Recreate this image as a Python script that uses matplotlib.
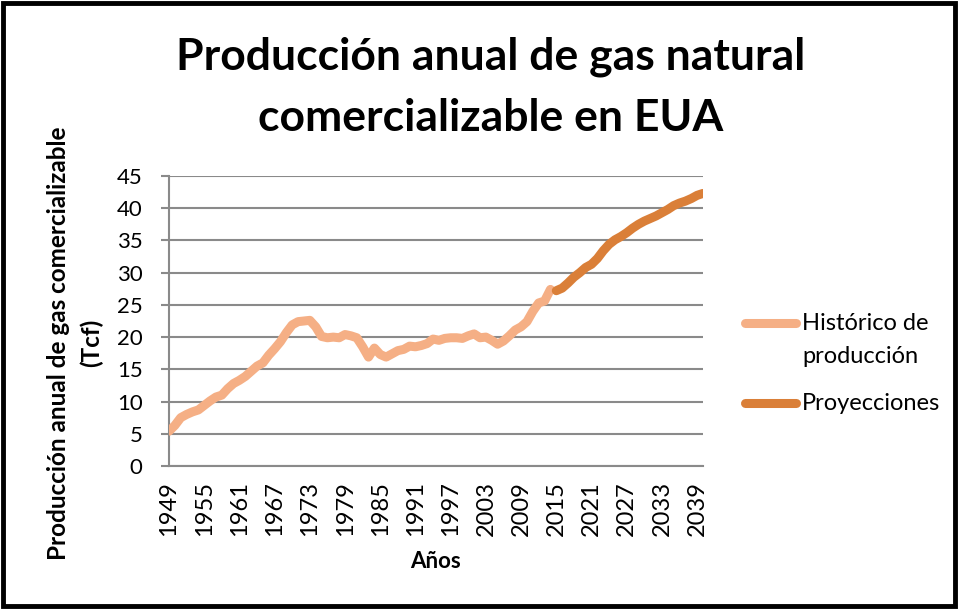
import matplotlib
matplotlib.use("Agg")
import matplotlib.pyplot as plt
from matplotlib.patches import Rectangle
from matplotlib.lines import Line2D

# --- Data (Tcf) ---
hist_years = list(range(1949, 2015))
hist_vals = [5.4, 6.3, 7.5, 8.0, 8.4, 8.7, 9.4, 10.1, 10.7, 11.0,
             12.0, 12.8, 13.3, 13.9, 14.7, 15.5, 16.0, 17.2, 18.2, 19.3,
             20.7, 21.9, 22.4, 22.5, 22.6, 21.6, 20.1, 19.9, 20.0, 19.9,
             20.4, 20.2, 19.9, 18.5, 16.9, 18.3, 17.3, 16.9, 17.4, 17.9,
             18.1, 18.6, 18.5, 18.7, 19.0, 19.7, 19.5, 19.8, 19.9, 19.9,
             19.8, 20.2, 20.5, 19.9, 20.0, 19.5, 18.9, 19.4, 20.2, 21.1,
             21.6, 22.4, 24.0, 25.3, 25.6, 27.4]
proj_years = list(range(2015, 2041))
proj_vals = [27.2, 27.6, 28.4, 29.3, 30.0, 30.8, 31.3, 32.2, 33.4, 34.4,
             35.1, 35.6, 36.2, 36.9, 37.5, 38.0, 38.4, 38.8, 39.3, 39.8,
             40.4, 40.8, 41.1, 41.5, 42.0, 42.3]
xtick_years = list(range(1949, 2040, 6))
yticks = list(range(0, 50, 5))
series_labels = ["Histórico de\nproducción", "Proyecciones"]

HIST, PROJ, GRID = "#F5AF85", "#DA7F38", "#8A8A8A"
FONT = "Lato"
W, H = 960, 609

fig = plt.figure(figsize=(9.6, 6.09), dpi=100)
ax = fig.add_axes([169 / W, 1 - 466 / H, 534 / W, 290 / H])

ax.plot(hist_years, hist_vals, color=HIST, lw=6.5, solid_capstyle="round",
        solid_joinstyle="round", zorder=3)
ax.plot(proj_years, proj_vals, color=PROJ, lw=6.5, solid_capstyle="round",
        solid_joinstyle="round", zorder=4)

ax.set_xlim(1949, 2040)
ax.set_ylim(0, 45)
ax.set_yticks(yticks)
ax.set_xticks(xtick_years)
ax.set_xticklabels([str(y) for y in xtick_years], rotation=90, va="top",
                   fontsize=17, family=FONT)
ax.set_yticklabels([str(v) for v in yticks], fontsize=16, family=FONT)
ax.tick_params(axis="x", length=0, pad=11)
ax.tick_params(axis="y", length=6, width=1.5, color=GRID, pad=13)
ax.grid(axis="y", color=GRID, lw=1.5, zorder=0)
ax.set_axisbelow(True)
for side in ("top", "right"):
    ax.spines[side].set_visible(False)
for side in ("left", "bottom"):
    ax.spines[side].set_color(GRID)
    ax.spines[side].set_linewidth(1.5)

# axis titles
fig.text(435 / W, 1 - 562 / H, "Años", ha="center", va="center",
         fontsize=16, fontweight="bold", family=FONT)
fig.text(75 / W, 1 - 343 / H, "Producción anual de gas comercializable\n(Tcf)",
         rotation=90, ha="center", va="center", multialignment="center",
         fontsize=17.5, fontweight="bold", family=FONT, linespacing=1.5)

# chart title
fig.text(491 / W, 1 - 87 / H, "Producción anual de gas natural\ncomercializable en EUA",
         ha="center", va="center", fontsize=32, fontweight="bold",
         family=FONT, linespacing=1.64)

# legend, Excel style: handle aligned with the first text line
for label, color, y in zip(series_labels, (HIST, PROJ), (323, 403)):
    fig.add_artist(Line2D([745 / W, 796 / W], [1 - y / H, 1 - y / H],
                          transform=fig.transFigure, color=color, lw=6.5,
                          solid_capstyle="round"))
    fig.text(802 / W, 1 - (y - 10) / H, label, ha="left", va="top",
             fontsize=17, family=FONT, linespacing=1.7)

fig.patches.append(Rectangle((0.003, 0.005), 0.992, 0.99, transform=fig.transFigure,
                             fill=False, edgecolor="black", lw=3.5))

fig.savefig("out.png", dpi=100, facecolor="white")
